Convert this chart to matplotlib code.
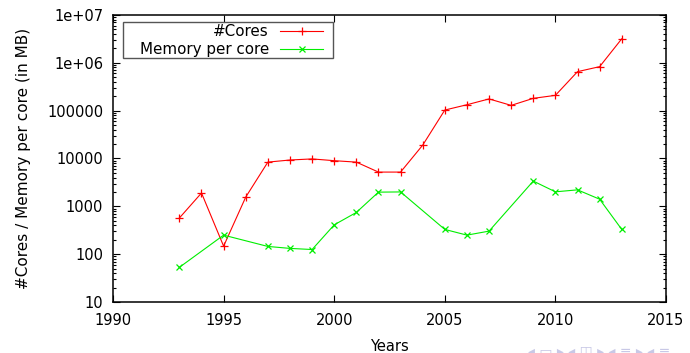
import numpy as np
import matplotlib
matplotlib.use('Agg')
import matplotlib.pyplot as plt
from matplotlib.patches import Rectangle
from matplotlib.ticker import FixedLocator, FixedFormatter, LogLocator, NullFormatter

# values
core_years = [1993, 1994, 1995, 1996, 1997, 1998, 1999, 2000, 2001, 2002, 2003,
              2004, 2005, 2006, 2007, 2008, 2009, 2010, 2011, 2012, 2013]
cores = [570, 1900, 147, 1560, 8400, 9300, 9800, 9000, 8400, 5200, 5200,
         19000, 103000, 133000, 176000, 129000, 181000, 209000, 654000, 832000, 3180000]

mem_years = [1993, 1995, 1997, 1998, 1999, 2000, 2001, 2002, 2003,
             2005, 2006, 2007, 2009, 2010, 2011, 2012, 2013]
mem_per_core = [53, 250, 145, 132, 125, 410, 745, 1980, 2000,
                329, 250, 303, 3370, 2010, 2210, 1410, 329]

ytick_vals = [10, 100, 1000, 10000, 100000, 1e6, 1e7]
ytick_labels = ['10', '100', '1000', '10000', '100000', '1e+06', '1e+07']
xtick_vals = [1990, 1995, 2000, 2005, 2010, 2015]

plt.rcParams['font.family'] = 'DejaVu Sans'

fig = plt.figure(figsize=(6.9, 3.53), dpi=100)
ax = fig.add_axes([0.1638, 0.1445, 0.8014, 0.813])

red, green = '#ff0000', '#00ee00'
ax.plot(core_years, cores, color=red, lw=0.8, marker='+', ms=6, mew=0.9)
ax.plot(mem_years, mem_per_core, color=green, lw=0.8, marker='x', ms=5, mew=0.9)

ax.set_yscale('log')
ax.set_xlim(1990, 2015)
ax.set_ylim(10, 1e7)

ax.xaxis.set_major_locator(FixedLocator(xtick_vals))
ax.yaxis.set_major_locator(FixedLocator(ytick_vals))
ax.yaxis.set_major_formatter(FixedFormatter(ytick_labels))
ax.yaxis.set_minor_locator(LogLocator(base=10, subs=np.arange(2, 10), numticks=20))
ax.yaxis.set_minor_formatter(NullFormatter())

ax.tick_params(which='both', direction='in', top=True, right=True, width=0.8,
               labelsize=10.5, colors='black')
ax.tick_params(which='major', length=5)
ax.tick_params(which='minor', length=2.5)
ax.tick_params(axis='y', which='major', pad=7)
ax.tick_params(axis='x', which='major', pad=8)
for s in ax.spines.values():
    s.set_linewidth(1.1)

ax.set_xlabel('Years', fontsize=10.5, labelpad=8)
ax.set_ylabel('#Cores / Memory per core (in MB)', fontsize=11, labelpad=12)

# gnuplot style key: right aligned labels, samples on the right
ax.add_patch(Rectangle((0.018, 0.850), 0.380, 0.126, transform=ax.transAxes,
                       facecolor='white', edgecolor='#555555', lw=1.0, zorder=5))
key = [('#Cores', red, '+', 6, 0.944), ('Memory per core', green, 'x', 5, 0.8815)]
for label, col, mk, size, yk in key:
    ax.text(0.282, yk, label, transform=ax.transAxes, ha='right', va='center',
            fontsize=10.9, zorder=6)
    ax.plot([0.302, 0.380], [yk, yk], transform=ax.transAxes, color=col, lw=0.8, zorder=6)
    ax.plot([0.341], [yk], transform=ax.transAxes, color=col, marker=mk, ms=size,
            mew=0.9, ls='', zorder=6)

# faint beamer navigation symbols at the bottom right
fig.text(0.765, -0.014, '\u25c2 \u25ad \u25b8 \u25c2 \u25eb \u25b8 \u25c2 \u2261 \u25b8 \u25c2 \u2261',
         color='#c8c8e6', fontsize=10, ha='left', va='bottom')

plt.savefig('out.png', dpi=100)
